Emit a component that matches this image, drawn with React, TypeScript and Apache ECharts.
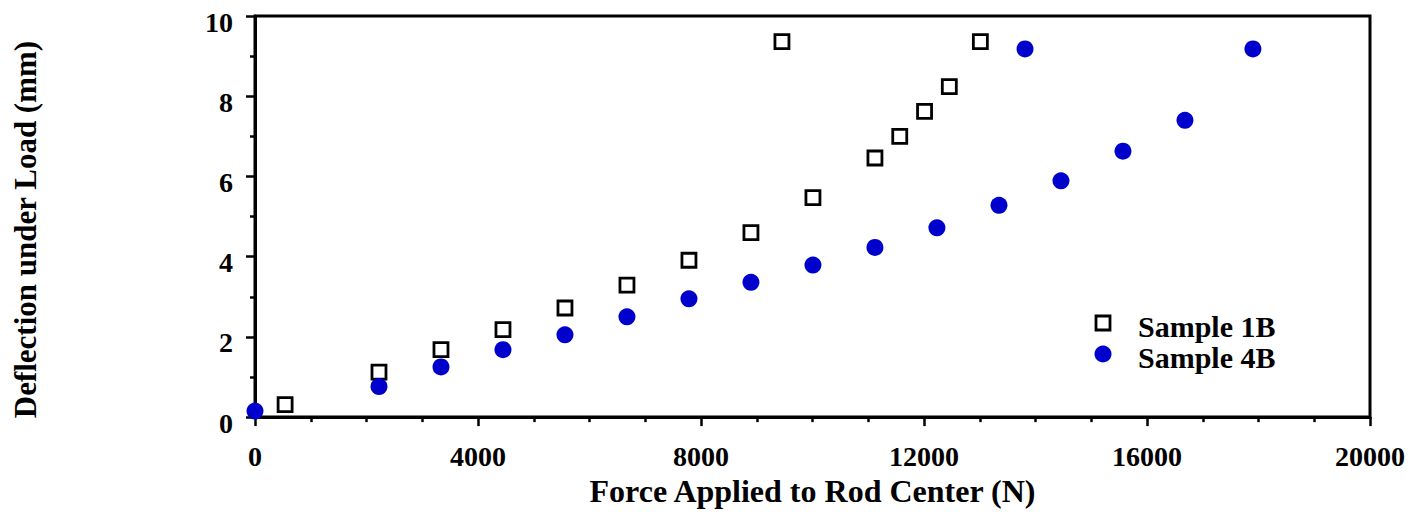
import React, { useEffect, useRef } from "react";
import * as echarts from "echarts";

const sample1BForce = [540, 2224, 3336, 4448, 5560, 6672, 7784, 8896, 9452, 10008, 11120, 11565, 12010, 12454, 13011];
const sample1BDefl = [0.31, 1.12, 1.68, 2.18, 2.72, 3.29, 3.91, 4.6, 9.36, 5.47, 6.46, 7.0, 7.62, 8.24, 9.36];

const sample4BForce = [0, 2224, 3336, 4448, 5560, 6672, 7784, 8896, 10008, 11120, 12232, 13345, 14457, 15569, 16681, 13812, 17900];
const sample4BDefl = [0.15, 0.76, 1.25, 1.68, 2.05, 2.5, 2.95, 3.36, 3.79, 4.23, 4.72, 5.28, 5.89, 6.63, 7.4, 9.18, 9.18];

const seriesNames = ["Sample 1B", "Sample 4B"];
const xTitle = "Force Applied to Rod Center (N)";
const yTitle = "Deflection under Load (mm)";

const FONT = "'Liberation Serif', 'Times New Roman', serif";
const BLUE = "#0000CC";

export default function App() {
  const ref = useRef<HTMLDivElement>(null);
  useEffect(() => {
    if (!ref.current) return;
    const chart = echarts.init(ref.current, undefined, { renderer: "svg" });
    const labelStyle = { fontFamily: FONT, fontWeight: "bold" as const, fontSize: 28, color: "#000" };
    const legendText = { fontFamily: FONT, fontWeight: "bold", fontSize: 30, fill: "#000" };
    chart.setOption({
      animation: false,
      backgroundColor: "#fff",
      grid: { left: 255, right: 50, top: 16, bottom: 92, show: true, borderColor: "#000", borderWidth: 3, containLabel: false },
      graphic: [
        {
          type: "rect",
          shape: { x: 1096, y: 316, width: 14, height: 14 },
          style: { fill: "#fff", stroke: "#000", lineWidth: 2.8 },
          z: 10,
        },
        {
          type: "text",
          x: 1138,
          y: 326,
          style: { ...legendText, text: seriesNames[0], verticalAlign: "middle", align: "left" },
          z: 10,
        },
        {
          type: "circle",
          shape: { cx: 1103, cy: 354, r: 8.5 },
          style: { fill: BLUE },
          z: 10,
        },
        {
          type: "text",
          x: 1138,
          y: 357,
          style: { ...legendText, text: seriesNames[1], verticalAlign: "middle", align: "left" },
          z: 10,
        },
      ],
      xAxis: {
        type: "value",
        min: 0,
        max: 20000,
        interval: 4000,
        name: xTitle,
        nameLocation: "middle",
        nameGap: 45,
        nameTextStyle: { fontFamily: FONT, fontWeight: "bold", fontSize: 32, color: "#000" },
        axisLine: { show: true, lineStyle: { color: "#000", width: 3 } },
        axisTick: { show: true, length: 9, lineStyle: { color: "#000", width: 2.5 } },
        minorTick: { show: true, splitNumber: 4, length: 5, lineStyle: { color: "#000", width: 2.5 } },
        splitLine: { show: false },
        axisLabel: { ...labelStyle, margin: 25, formatter: (v: number) => String(v) },
      },
      yAxis: {
        type: "value",
        min: 0,
        max: 10,
        interval: 2,
        name: yTitle,
        nameLocation: "middle",
        nameRotate: 90,
        nameGap: 214,
        nameTextStyle: { fontFamily: FONT, fontWeight: "bold", fontSize: 31, color: "#000", padding: [0, 26, 0, 0] },
        axisLine: { show: true, lineStyle: { color: "#000", width: 3 } },
        axisTick: { show: true, length: 9, lineStyle: { color: "#000", width: 2.5 } },
        minorTick: { show: true, splitNumber: 2, length: 5, lineStyle: { color: "#000", width: 2.5 } },
        splitLine: { show: false },
        axisLabel: { ...labelStyle, margin: 22, verticalAlign: "top", lineHeight: 12, formatter: (v: number) => String(v) },
      },
      series: [
        {
          name: seriesNames[0],
          type: "scatter",
          clip: false,
          symbol: "rect",
          symbolSize: 14,
          itemStyle: { color: "#fff", borderColor: "#000", borderWidth: 2.8, opacity: 1 },
          data: sample1BForce.map((f, i) => [f, sample1BDefl[i]]),
          z: 3,
        },
        {
          name: seriesNames[1],
          type: "scatter",
          clip: false,
          symbol: "circle",
          symbolSize: 17,
          itemStyle: { color: BLUE, opacity: 1 },
          data: sample4BForce.map((f, i) => [f, sample4BDefl[i]]),
          z: 4,
        },
      ],
    });
    return () => chart.dispose();
  }, []);
  return <div ref={ref} style={{ position: "fixed", left: 0, top: 0, width: 1420, height: 512 }} />;
}
